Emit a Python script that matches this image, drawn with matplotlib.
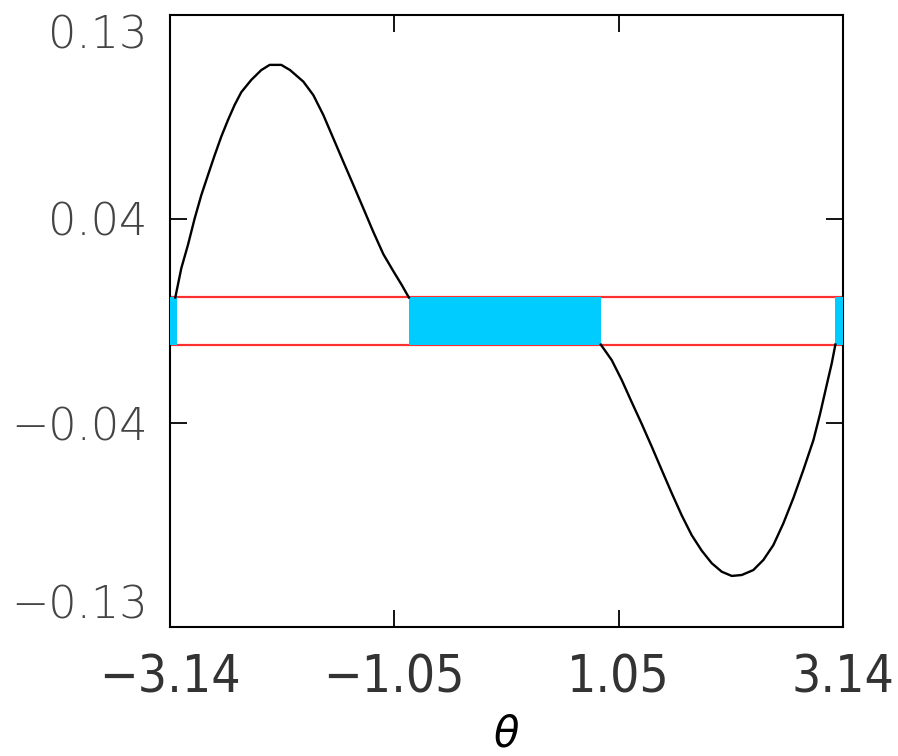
import numpy as np
import matplotlib
matplotlib.use("Agg")
import matplotlib.pyplot as plt

# curve, left lobe (above band) and right lobe (below band)
theta_left = [-3.092, -3.036, -2.974, -2.911, -2.849, -2.787, -2.724, -2.663, -2.600,
              -2.538, -2.476, -2.383, -2.289, -2.211, -2.103, -2.021, -1.897, -1.804,
              -1.710, -1.617, -1.524, -1.430, -1.337, -1.244, -1.150, -1.057, -0.978,
              -0.912]
val_left = [0.0100, 0.0224, 0.0323, 0.0436, 0.0535, 0.0620, 0.0705, 0.0783, 0.0854,
            0.0918, 0.0972, 0.1024, 0.1066, 0.1088, 0.1088, 0.1066, 0.1017, 0.0960,
            0.0875, 0.0776, 0.0677, 0.0578, 0.0479, 0.0379, 0.0284, 0.0212, 0.0153,
            0.0100]
theta_right = [0.880, 0.982, 1.076, 1.169, 1.262, 1.356, 1.449, 1.543, 1.636, 1.729,
               1.823, 1.916, 2.009, 2.103, 2.196, 2.304, 2.398, 2.491, 2.584, 2.678,
               2.771, 2.865, 2.927, 2.990, 3.036, 3.070]
val_right = [-0.0100, -0.0166, -0.0251, -0.0345, -0.0437, -0.0534, -0.0633, -0.0732,
             -0.0826, -0.0910, -0.0976, -0.1029, -0.1065, -0.1083, -0.1079, -0.1058,
             -0.1015, -0.0952, -0.0860, -0.0752, -0.0633, -0.0506, -0.0395, -0.0270,
             -0.0180, -0.0100]

band = 0.0100
# intervals where the curve stays inside the band
inside = [(-3.1416, -3.078), (-0.912, 0.880), (3.070, 3.1416)]

xticks = [-np.pi, -np.pi / 3, np.pi / 3, np.pi]
xticklabels = ["\u22123.14", "\u22121.05", "1.05", "3.14"]
yticks = [-0.13, -0.13 / 3, 0.13 / 3, 0.13]
yticklabels = ["\u22120.13", "\u22120.04", "0.04", "0.13"]

fig = plt.figure(figsize=(8.98, 7.56), dpi=100)
ax = fig.add_axes([0.1893, 0.1706, 0.7495, 0.8096])

ax.axhline(band, color="#ff3030", lw=1.6, zorder=2)
ax.axhline(-band, color="#ff3030", lw=1.6, zorder=2)
for a, b in inside:
    ax.fill_between([a, b], -band, band, color="#00ccff", lw=0, zorder=3)

ax.plot(theta_left, val_left, color="black", lw=1.7, zorder=4)
ax.plot(theta_right, val_right, color="black", lw=1.7, zorder=4)

ax.set_xlim(-np.pi, np.pi)
ax.set_ylim(-0.13, 0.13)

ax.set_xticks(xticks)
ax.set_xticklabels(xticklabels, fontsize=37, color="#333333",
                   family="DejaVu Sans", fontstretch="condensed", fontweight="light")
ax.set_yticks(yticks)
ax.set_yticklabels(yticklabels, fontsize=32, color="#444444",
                   family="DejaVu Sans", fontweight=200)
labs = ax.get_yticklabels()
labs[0].set_va("bottom")
labs[-1].set_va("top")

ax.tick_params(direction="in", length=12, width=1.3, top=True, right=True)
ax.tick_params(axis="x", pad=19)
ax.tick_params(axis="y", pad=16)
for s in ax.spines.values():
    s.set_linewidth(1.5)

ax.set_xlabel(r"$\theta$", fontsize=30, labelpad=7)

fig.savefig("out.png", dpi=100)
